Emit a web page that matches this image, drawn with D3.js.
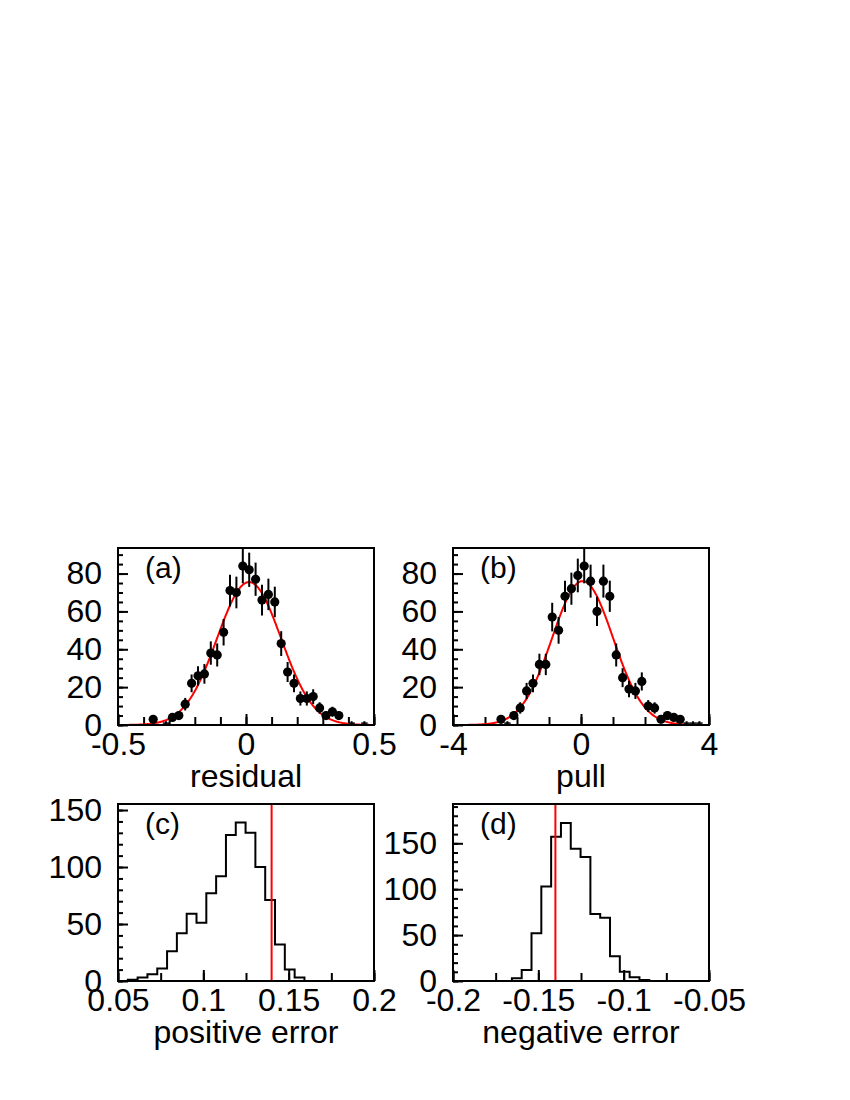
<!DOCTYPE html>
<html lang="en">
<head>
<meta charset="utf-8">
<title>residual / pull / errors</title>
<script src="https://d3js.org/d3.v7.min.js"></script>
<style>
  body { margin: 0; background: #fff; }
  text { font-family: "Liberation Sans", Arial, Helvetica, sans-serif; fill: #000; }
</style>
</head>
<body>
<script>
// (a) residual: 40 bins from -0.5 to 0.5
var residualCounts = [0, 0, 0, 0, 0, 3, 0, 1, 4, 5,
                      11, 22, 26, 27, 38, 37, 49, 71, 70, 84,
                      82, 77, 66, 69, 65, 43, 28, 22, 14, 14,
                      15, 9, 5, 7, 5, 0, 1, 0, 1, 0];
var residualFit = [75.5, 0.012, 0.125];   // amplitude, mean, sigma

// (b) pull: 40 bins from -4 to 4
var pullCounts = [0, 0, 0, 0, 0, 0, 0, 3, 1, 5,
                  9, 18, 22, 32, 32, 57, 50, 68, 72, 79,
                  84, 76, 60, 76, 68, 37, 25, 19, 18, 23,
                  10, 9, 3, 5, 4, 3, 1, 1, 1, 0];
var pullFit = [76, 0.05, 0.95];

// (c) positive error, bins of 0.00575 starting at 0.05
var posErrCounts = [0, 1, 3, 6, 11, 26, 42, 59, 51, 77,
                    92, 128, 139, 130, 100, 71, 32, 10, 3, 0];
var posErrStart = 0.05;
var posErrMark = 0.14;

// (d) negative error, bins of 0.00575 starting at -0.2
var negErrCounts = [0, 0, 0, 0, 0, 0, 3, 12, 52, 103,
                    157, 172, 144, 135, 73, 69, 27, 10, 4, 1, 0];
var negErrStart = -0.2;
var negErrMark = -0.14;
var errBinWidth = 0.00575;

// tick labels
var residualTicks = [-0.5, 0, 0.5];
var pullTicks = [-4, 0, 4];
var posErrTicks = [0.05, 0.1, 0.15, 0.2];
var negErrTicks = [-0.2, -0.15, -0.1, -0.05];
var countTicksAB = [0, 20, 40, 60, 80];
var countTicksC = [0, 50, 100, 150];
var countTicksD = [0, 50, 100, 150];

var svg = d3.select("body").append("svg")
    .attr("width", 850)
    .attr("height", 1100);
svg.append("rect").attr("width", 850).attr("height", 1100).attr("fill", "#fff");

var FS = 32;

function panel(cfg) {
    var x = d3.scaleLinear().domain(cfg.xDomain).range([cfg.left, cfg.right]);
    var y = d3.scaleLinear().domain(cfg.yDomain).range([cfg.bottom, cfg.top]);
    var g = svg.append("g");

    var clipId = "clip" + cfg.name;
    g.append("clipPath").attr("id", clipId).append("rect")
        .attr("x", cfg.left).attr("y", cfg.top)
        .attr("width", cfg.right - cfg.left).attr("height", cfg.bottom - cfg.top);

    // minor x ticks
    g.append("g").attr("transform", "translate(0," + cfg.bottom + ")")
        .call(d3.axisBottom(x).tickValues(cfg.xMinor).tickSizeInner(-8).tickSizeOuter(0).tickFormat(""))
        .call(function(s) { s.select(".domain").remove(); });
    // major x ticks + labels
    g.append("g").attr("transform", "translate(0," + cfg.bottom + ")")
        .call(d3.axisBottom(x).tickValues(cfg.xTicks).tickSizeInner(-11).tickSizeOuter(0)
            .tickPadding(7).tickFormat(function(d) { return String(d); }))
        .call(function(s) {
            s.select(".domain").remove();
            s.selectAll("text").attr("font-size", FS).attr("font-family", null);
        });
    // minor y ticks
    g.append("g").attr("transform", "translate(" + cfg.left + ",0)")
        .call(d3.axisLeft(y).tickValues(cfg.yMinor).tickSizeInner(-5).tickSizeOuter(0).tickFormat(""))
        .call(function(s) { s.select(".domain").remove(); });
    // major y ticks + labels
    g.append("g").attr("transform", "translate(" + cfg.left + ",0)")
        .call(d3.axisLeft(y).tickValues(cfg.yTicks).tickSizeInner(-10).tickSizeOuter(0)
            .tickPadding(16).tickFormat(function(d) { return String(d); }))
        .call(function(s) {
            s.select(".domain").remove();
            s.selectAll("text").attr("font-size", FS).attr("font-family", null);
        });
    g.selectAll(".tick line").attr("stroke", "#000").attr("stroke-width", 2);

    var plot = g.append("g").attr("clip-path", "url(#" + clipId + ")");
    cfg.draw(plot, x, y);

    // frame
    g.append("rect")
        .attr("x", cfg.left).attr("y", cfg.top)
        .attr("width", cfg.right - cfg.left).attr("height", cfg.bottom - cfg.top)
        .attr("fill", "none").attr("stroke", "#000").attr("stroke-width", 2);

    g.append("text").attr("x", cfg.left + 27).attr("y", cfg.top + 30)
        .attr("font-size", 30).text(cfg.label);
    g.append("text").attr("x", (cfg.left + cfg.right) / 2).attr("y", cfg.bottom + 62)
        .attr("text-anchor", "middle").attr("font-size", FS).text(cfg.title);
}

function drawPoints(counts, lo, hi, fit) {
    return function(g, x, y) {
        var bw = (hi - lo) / counts.length;
        var pts = counts.map(function(c, i) { return { x: lo + bw * (i + 0.5), n: c, i: i }; })
            .filter(function(p) { return p.n > 0; });
        // gaussian fit curve
        var xs = d3.range(lo, hi + 1e-9, (hi - lo) / 400);
        var line = d3.line()
            .x(function(v) { return x(v); })
            .y(function(v) { return y(fit[0] * Math.exp(-0.5 * Math.pow((v - fit[1]) / fit[2], 2))); });
        g.append("path").datum(xs).attr("d", line)
            .attr("fill", "none").attr("stroke", "#ff0000").attr("stroke-width", 2);
        // error bars
        g.selectAll("line.ey").data(pts).enter().append("line")
            .attr("x1", function(p) { return x(p.x); }).attr("x2", function(p) { return x(p.x); })
            .attr("y1", function(p) { return y(p.n - Math.sqrt(p.n)); })
            .attr("y2", function(p) { return y(p.n + Math.sqrt(p.n)); })
            .attr("stroke", "#000").attr("stroke-width", 2);
        g.selectAll("line.ex").data(pts).enter().append("line")
            .attr("x1", function(p) { return x(p.x - bw / 2); }).attr("x2", function(p) { return x(p.x + bw / 2); })
            .attr("y1", function(p) { return y(p.n); }).attr("y2", function(p) { return y(p.n); })
            .attr("stroke", "#000").attr("stroke-width", 1.5);
        g.selectAll("circle").data(pts.filter(function(p) { return p.n > 1; })).enter().append("circle")
            .attr("cx", function(p) { return x(p.x); })
            .attr("cy", function(p) { return y(p.n); })
            .attr("r", 4.6).attr("fill", "#000");
    };
}

function drawHist(counts, start, width, mark) {
    return function(g, x, y) {
        var pts = [[start, 0]];
        counts.forEach(function(c, i) {
            pts.push([start + i * width, c]);
            pts.push([start + (i + 1) * width, c]);
        });
        pts.push([start + counts.length * width, 0]);
        g.append("path").datum(pts)
            .attr("d", d3.line().x(function(p) { return x(p[0]); }).y(function(p) { return y(p[1]); }))
            .attr("fill", "none").attr("stroke", "#000").attr("stroke-width", 2);
        g.append("line")
            .attr("x1", x(mark)).attr("x2", x(mark))
            .attr("y1", y.range()[0]).attr("y2", y.range()[1])
            .attr("stroke", "#ff0000").attr("stroke-width", 2);
    };
}

function steps(a, b, s) { return d3.range(Math.round((b - a) / s) + 1).map(function(k) { return +(a + k * s).toFixed(6); }); }

panel({
    name: "a", left: 118, right: 374, top: 548, bottom: 725,
    xDomain: [-0.5, 0.5], yDomain: [0, 93.5],
    xTicks: residualTicks, xMinor: steps(-0.5, 0.5, 0.1),
    yTicks: countTicksAB, yMinor: steps(0, 90, 5),
    label: "(a)", title: "residual",
    draw: drawPoints(residualCounts, -0.5, 0.5, residualFit)
});
panel({
    name: "b", left: 453, right: 709, top: 548, bottom: 725,
    xDomain: [-4, 4], yDomain: [0, 93.5],
    xTicks: pullTicks, xMinor: steps(-4, 4, 1),
    yTicks: countTicksAB, yMinor: steps(0, 90, 5),
    label: "(b)", title: "pull",
    draw: drawPoints(pullCounts, -4, 4, pullFit)
});
panel({
    name: "c", left: 118, right: 374, top: 804, bottom: 981,
    xDomain: [0.05, 0.2], yDomain: [0, 155.3],
    xTicks: posErrTicks, xMinor: steps(0.05, 0.2, 0.025),
    yTicks: countTicksC, yMinor: steps(0, 150, 10),
    label: "(c)", title: "positive error",
    draw: drawHist(posErrCounts, posErrStart, errBinWidth, posErrMark)
});
panel({
    name: "d", left: 453, right: 709, top: 804, bottom: 981,
    xDomain: [-0.2, -0.05], yDomain: [0, 192.8],
    xTicks: negErrTicks, xMinor: steps(-0.2, -0.05, 0.025),
    yTicks: countTicksD, yMinor: steps(0, 190, 10),
    label: "(d)", title: "negative error",
    draw: drawHist(negErrCounts, negErrStart, errBinWidth, negErrMark)
});
</script>
</body>
</html>
